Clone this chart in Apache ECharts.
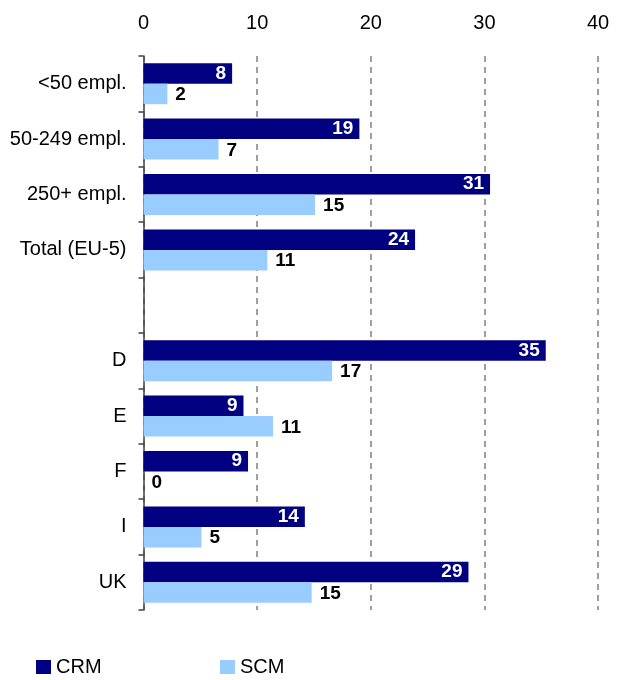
<!DOCTYPE html>
<html>
<head>
<meta charset="utf-8">
<script src="https://cdn.jsdelivr.net/npm/echarts@6/dist/echarts.min.js"></script>
<style>
  html, body { margin: 0; padding: 0; background: #fff; }
  #chart { width: 617px; height: 680px; }
</style>
</head>
<body>
<div id="chart"></div>
<script>
// Share of firms using CRM / SCM software, by firm size and country (%)
const categories = ['<50 empl.', '50-249 empl.', '250+ empl.', 'Total (EU-5)', '', 'D', 'E', 'F', 'I', 'UK'];
const crmValues = [7.8, 19.0, 30.5, 23.9, null, 35.4, 8.8, 9.2, 14.2, 28.6];
const scmValues = [2.1, 6.6, 15.1, 10.9, null, 16.6, 11.4, 0, 5.1, 14.8];
const xTicks = [0, 10, 20, 30, 40];

const FONT = '"Liberation Sans", Arial, sans-serif';
const roundLabel = p => (p.value == null ? '' : String(Math.round(p.value)));

const chart = echarts.init(document.getElementById('chart'), null, { renderer: 'canvas' });

const legendText = { fontSize: 20, color: '#000', fontFamily: FONT };

chart.setOption({
  animation: false,
  backgroundColor: '#ffffff',
  textStyle: { fontFamily: FONT },
  grid: { left: 143.5, right: 19, top: 56, bottom: 70, containLabel: false },
  legend: [
    {
      data: ['CRM'], left: 36, top: 657, padding: 0, itemWidth: 15, itemHeight: 14, itemGap: 6,
      icon: 'rect', textStyle: legendText
    },
    {
      data: ['SCM'], left: 220, top: 657, padding: 0, itemWidth: 15, itemHeight: 14, itemGap: 6,
      icon: 'rect', textStyle: legendText
    }
  ],
  xAxis: {
    type: 'value',
    position: 'top',
    min: xTicks[0],
    max: xTicks[xTicks.length - 1],
    interval: 10,
    axisLine: { show: false },
    axisTick: { show: false },
    axisLabel: { fontSize: 20, color: '#000', margin: 23, fontFamily: FONT },
    splitLine: {
      show: true,
      lineStyle: { color: '#808080', type: [6, 5], width: 1.5 }
    }
  },
  yAxis: {
    type: 'category',
    inverse: true,
    data: categories,
    axisLine: { show: true, lineStyle: { color: '#404040', width: 1.5 } },
    axisTick: { show: true, length: 5, inside: false, lineStyle: { color: '#404040', width: 1.5 } },
    axisLabel: { fontSize: 20, color: '#000', margin: 17, fontFamily: FONT },
    splitLine: { show: false }
  },
  series: [
    {
      name: 'CRM',
      type: 'bar',
      data: crmValues,
      barWidth: 20.5,
      barGap: '0%',
      itemStyle: { color: '#000080' },
      label: {
        show: true, position: 'insideRight', distance: 6,
        color: '#ffffff', fontWeight: 'bold', fontSize: 19, fontFamily: FONT,
        formatter: roundLabel
      }
    },
    {
      name: 'SCM',
      type: 'bar',
      data: scmValues,
      barWidth: 20.5,
      itemStyle: { color: '#99ccff' },
      label: {
        show: true, position: 'right', distance: 8, offset: [0, 1],
        color: '#000000', fontWeight: 'bold', fontSize: 19, fontFamily: FONT,
        formatter: roundLabel
      }
    }
  ]
});
</script>
</body>
</html>
